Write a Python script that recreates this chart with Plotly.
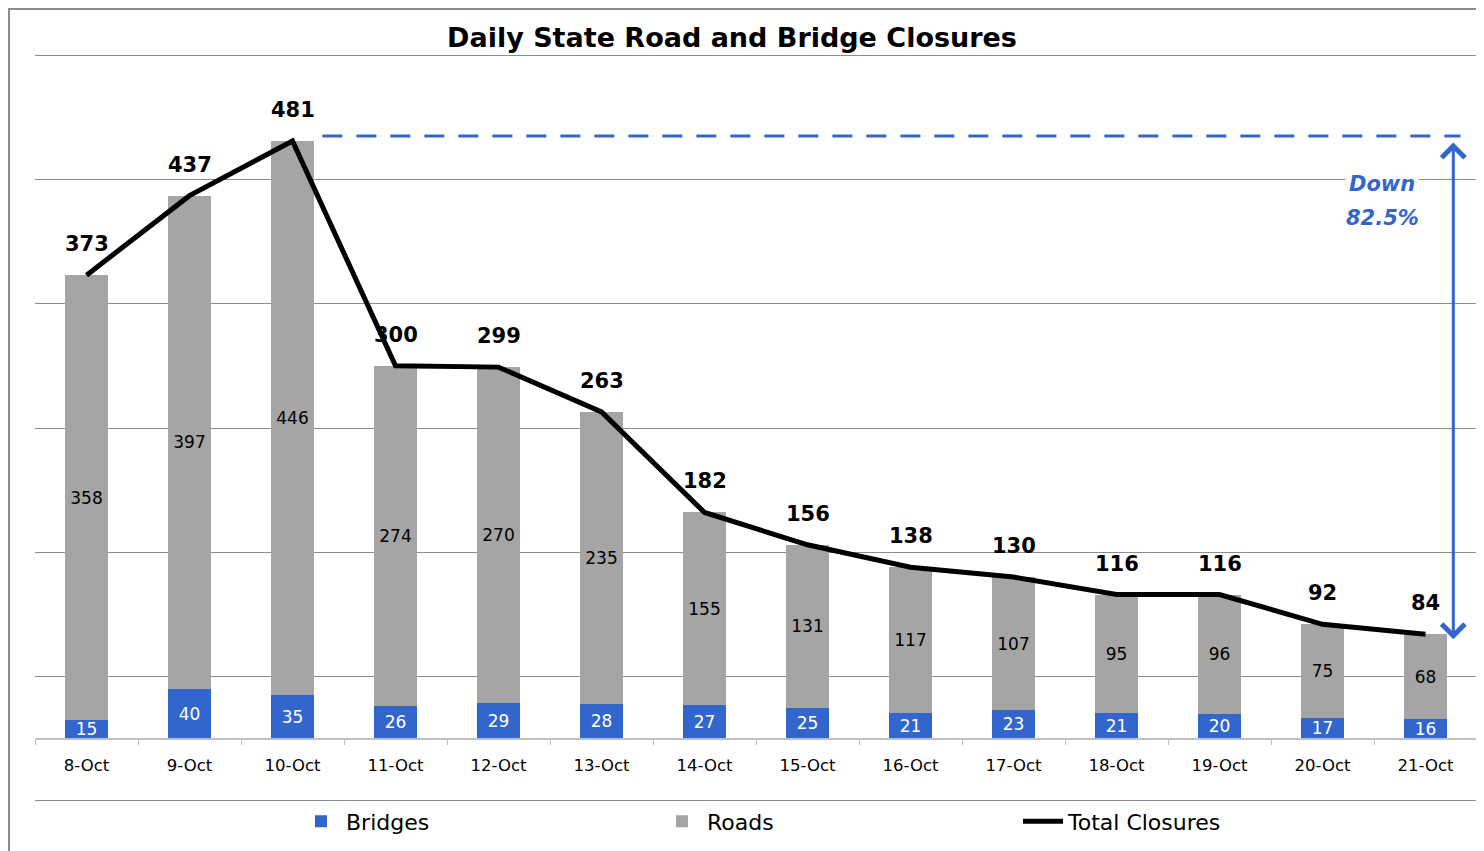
import plotly.graph_objects as go

dates = ["8-Oct", "9-Oct", "10-Oct", "11-Oct", "12-Oct", "13-Oct", "14-Oct",
         "15-Oct", "16-Oct", "17-Oct", "18-Oct", "19-Oct", "20-Oct", "21-Oct"]
bridges = [15, 40, 35, 26, 29, 28, 27, 25, 21, 23, 21, 20, 17, 16]
roads = [358, 397, 446, 274, 270, 235, 155, 131, 117, 107, 95, 96, 75, 68]
totals = [373, 437, 481, 300, 299, 263, 182, 156, 138, 130, 116, 116, 92, 84]
peak_value = 481
last_value = 84
drop_word = "Down"
drop_pct = "82.5%"

FONT = "DejaVu Sans"
BLUE = "#3366cc"
GRAY = "#a5a5a5"

fig = go.Figure()
fig.add_trace(go.Bar(
    x=dates, y=bridges, name="Bridges", marker=dict(color=BLUE, line=dict(width=0)),
    text=bridges, textposition="inside", insidetextanchor="middle",
    constraintext="none", textangle=0,
    textfont=dict(family=FONT, size=17, color="white"), width=0.41,
))
fig.add_trace(go.Bar(
    x=dates, y=roads, name="Roads", marker=dict(color=GRAY, line=dict(width=0)),
    text=roads, textposition="inside", insidetextanchor="middle",
    constraintext="none", textangle=0,
    textfont=dict(family=FONT, size=17, color="black"), width=0.41,
))
fig.add_trace(go.Scatter(
    x=dates, y=totals, name="Total Closures", mode="lines",
    line=dict(color="black", width=5),
))

annotations = []
for d, t in zip(dates, totals):
    annotations.append(dict(
        x=d, y=t, xref="x", yref="y", text=f"<b>{t}</b>", showarrow=False,
        yshift=31, font=dict(family=FONT, size=21, color="black"),
    ))

# double-headed arrow showing the drop
arrow_x = 13.27
annotations.append(dict(
    x=arrow_x, y=last_value - 4, ax=arrow_x, ay=peak_value, xref="x", yref="y",
    axref="x", ayref="y", text="", showarrow=True, arrowhead=4, startarrowhead=4,
    arrowside="end+start", arrowwidth=3, arrowsize=1.5, arrowcolor=BLUE,
))
annotations.append(dict(
    x=12.58, y=446, xref="x", yref="y", text=f"<b><i>{drop_word}</i></b>",
    showarrow=False, bgcolor="white", font=dict(family=FONT, size=21, color=BLUE),
    borderpad=3,
))
annotations.append(dict(
    x=12.58, y=419, xref="x", yref="y", text=f"<b><i>{drop_pct}</i></b>",
    showarrow=False, bgcolor="white", font=dict(family=FONT, size=21, color=BLUE),
    borderpad=3,
))

# page body has an 8px margin; figure is laid out to land on page pixels
W, H = 1476, 851
ml, mr, mt, mb = 27, 7, 46, 57
pw, ph = W - ml - mr, H - mt - mb

shapes = [
    # dashed peak reference line
    dict(type="line", xref="x", yref="y", x0=2.29, x1=13.34, y0=peak_value + 4,
         y1=peak_value + 4, line=dict(color=BLUE, width=3, dash="20px,14px")),
    # outer chart border
    dict(type="rect", xref="paper", yref="paper",
         x0=(1 - ml) / pw, x1=(1471 - ml) / pw,
         y0=-(100 / ph), y1=1 + (mt - 1) / ph,
         line=dict(color="#8c8c8c", width=2), layer="below"),
]

fig.update_layout(
    width=W, height=H,
    margin=dict(l=ml, r=mr, t=mt, b=mb, pad=0),
    paper_bgcolor="white", plot_bgcolor="white",
    barmode="stack", bargap=0.59,
    title=dict(text="<b>Daily State Road and Bridge Closures</b>", x=724 / W,
               xanchor="center", y=1 - 30 / H, yanchor="middle",
               font=dict(family=FONT, size=27, color="black")),
    font=dict(family=FONT, color="black"),
    showlegend=True,
    legend=dict(orientation="h", x=0.181, xanchor="left",
                y=0.002, yanchor="top", font=dict(family=FONT, size=22),
                entrywidth=306, itemwidth=40, traceorder="normal"),
    annotations=annotations,
    shapes=shapes,
)
fig.update_xaxes(
    type="category", range=[-0.5, 13.5], anchor="free", position=51 / 602,
    showline=True, linecolor="#bfbfbf", linewidth=1.5,
    ticks="outside", ticklen=6, tickcolor="#bfbfbf", tickson="boundaries",
    ticklabelstandoff=12,
    showgrid=False, tickfont=dict(family=FONT, size=16.5, color="black"),
)
fig.update_yaxes(
    range=[-51, 551], tick0=-50, dtick=100, showticklabels=False,
    showgrid=True, gridcolor="#8c8c8c", gridwidth=1, zeroline=False, ticks="",
)

fig.write_html("out.html")
